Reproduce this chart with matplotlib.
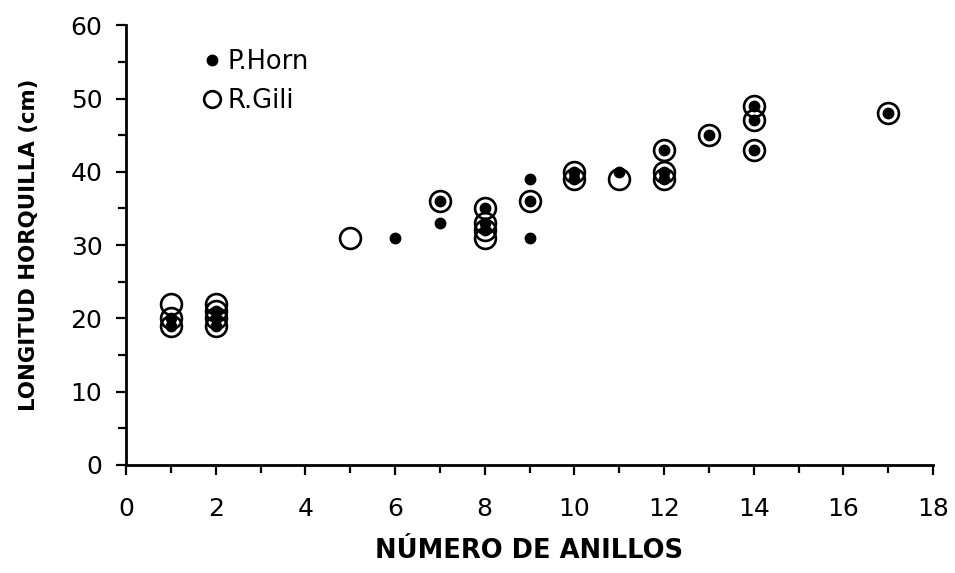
import matplotlib
matplotlib.use("Agg")
import matplotlib.pyplot as plt
from matplotlib.ticker import MultipleLocator

plt.rcParams["font.family"] = ["DejaVu Sans"]

# P.Horn (puntos negros)
horn_anillos = [1, 1, 2, 2, 2, 6, 7, 7, 8, 8, 8, 9, 9, 9, 10, 10, 11, 12, 12, 12, 13, 14, 14, 14, 17]
horn_longitud = [20, 19, 21, 20, 19, 31, 36, 33, 35, 33, 32, 39, 36, 31, 40, 39, 40, 43, 40, 39, 45, 49, 47, 43, 48]

# R.Gili (círculos abiertos)
gili_anillos = [1, 1, 1, 2, 2, 2, 2, 5, 7, 8, 8, 8, 8, 9, 10, 10, 11, 12, 12, 12, 13, 14, 14, 14, 17]
gili_longitud = [22, 20, 19, 22, 21, 20, 19, 31, 36, 35, 33, 32, 31, 36, 40, 39, 39, 43, 40, 39, 45, 49, 47, 43, 48]

fig = plt.figure(figsize=(9.55, 5.73), dpi=100)
ax = fig.add_axes([0.132, 0.1885, 0.845, 0.7675])

ax.plot(gili_anillos, gili_longitud, linestyle="none", marker="o", markersize=15,
        markerfacecolor="none", markeredgecolor="black", markeredgewidth=1.9,
        label="R.Gili", clip_on=False)
ax.plot(horn_anillos, horn_longitud, linestyle="none", marker="o", markersize=7.5,
        color="black", label="P.Horn", clip_on=False)

ax.set_xlim(0, 18)
ax.set_ylim(0, 60)
ax.xaxis.set_major_locator(MultipleLocator(2))
ax.xaxis.set_minor_locator(MultipleLocator(1))
ax.yaxis.set_major_locator(MultipleLocator(10))
ax.yaxis.set_minor_locator(MultipleLocator(5))

for side in ("top", "right"):
    ax.spines[side].set_visible(False)
for side in ("left", "bottom"):
    ax.spines[side].set_linewidth(2)

ax.tick_params(which="major", direction="out", length=7, width=1.6,
               labelsize=18, pad=16)
ax.tick_params(which="minor", direction="out", length=6, width=1.6)
ax.tick_params(axis="y", which="major", pad=10)

ax.set_xlabel("NÚMERO DE ANILLOS", fontsize=18.5, fontweight="bold")
ax.set_ylabel("LONGITUD HORQUILLA (cm)", fontsize=15.3, fontweight="bold")
ax.xaxis.set_label_coords(0.5, -0.165)
ax.yaxis.set_label_coords(-0.108, 0.5)

handles, labels = ax.get_legend_handles_labels()
leg = ax.legend(handles[::-1], labels[::-1], loc="upper left",
                bbox_to_anchor=(0.084, 0.97), frameon=False, fontsize=18.5,
                handlelength=0.6, handletextpad=0.3, labelspacing=0.52,
                borderaxespad=0)
leg.legend_handles[1].set_markersize(12)

fig.savefig("out.png", dpi=100)
